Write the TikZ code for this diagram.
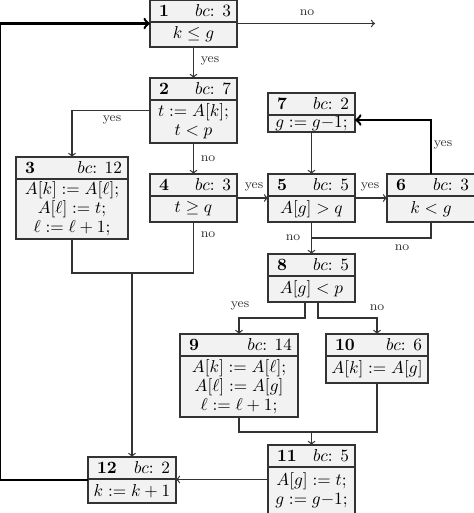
\documentclass[tikz,border=0pt]{standalone}
\usetikzlibrary{calc,fit}
\newlength\pxu \setlength\pxu{0.58pt}
\definecolor{boxfill}{gray}{0.95}
\definecolor{linec}{gray}{0.2}
\tikzset{
 hdr/.style={draw=linec, fill=boxfill, line width=0.8pt, anchor=north west, inner xsep=0pt, inner ysep=0pt, outer sep=0pt, minimum height=22\pxu, font=\fontsize{10}{12}\selectfont},
 bdy/.style={draw=linec, fill=boxfill, line width=0.8pt, anchor=north west, inner sep=0.3pt, outer sep=0pt, align=center, font=\fontsize{10}{11}\selectfont},
 edge/.style={draw=linec, line width=0.7pt},
 arr/.style={edge, ->},
 loopedge/.style={draw=black, line width=1.4pt},
 lbl/.style={font=\fontsize{7.5}{9}\selectfont, text=linec, inner sep=0pt}
}
\newcommand\blk[8]{%
 \node[hdr, minimum width=#4\pxu] (#1h) at (#2,#3) {\makebox[#4\pxu]{\hspace{9\pxu}\textbf{#5}\hfill$bc$: #6\hspace{6\pxu}}};
 \node[bdy, minimum width=#4\pxu, minimum height=#7\pxu] (#1b) at (#1h.south west) {#8};
 \node[inner sep=0pt, outer sep=0pt, fit=(#1h)(#1b)] (#1) {};
}
\begin{document}
\begin{tikzpicture}[x=0.58pt, y=-0.58pt]
\useasboundingbox (0,0) rectangle (474,513);
\clip (0,0) rectangle (474,513);

\blk{n1}{150}{0}{87}{1}{3}{25}{$k\le g$}
\blk{n2}{150}{78}{87}{2}{7}{43}{$t := A[k];$\\ $t<p$}
\blk{n3}{16}{157}{112}{3}{12}{60}{$A[k] := A[\ell];$\\ $A[\ell] := t;$\\ $\ell := \ell+1;$}
\blk{n4}{150}{174}{87}{4}{3}{26}{$t\ge q$}
\blk{n5}{268}{174}{87}{5}{5}{26}{$A[g]>q$}
\blk{n6}{387}{174}{88}{6}{3}{26}{$k<g$}
\blk{n7}{268}{93}{87}{7}{2}{17}{$g := g{-}1;$}
\blk{n8}{268}{254}{87}{8}{5}{26}{$A[g]<p$}
\blk{n9}{180}{334}{118}{9}{14}{61}{$A[k] := A[\ell];$\\ $A[\ell] := A[g]$\\ $\ell := \ell+1;$}
\blk{n10}{326}{334}{102}{10}{6}{27}{$A[k] := A[g]$}
\blk{n11}{268}{445}{87}{11}{5}{47}{$A[g] := t;$\\ $g := g{-}1;$}
\blk{n12}{88}{457}{88}{12}{2}{24}{$k := k+1$}

\coordinate (out1) at (375,23.5);
\coordinate (lc) at (-0.6,23.5);
\coordinate (j58) at (311.5,238);
\coordinate (m34) at (132,273);
\coordinate (m910) at (311.5,432);

\draw[loopedge,->] (n12.west) -| (lc) -- (n1.west);
\draw[arr] (n1.east) -- (out1);
\draw[arr] (n1.south) -- (n2.north);
\draw[arr] (n2.west) -| (n3.north);
\draw[arr] (n2.south) -- (n4.north);
\draw[arr] (n4.east) -- (n5.west);
\draw[arr] (n5.east) -- (n6.west);
\draw[loopedge,->] (n6.north) |- ($(n7.east)+(0,7.5)$);
\draw[arr] (n7.south) -- (n5.north);
\draw[edge] (n6.south) |- (j58);
\draw[arr] (n5.south) -- (n8.north);
\draw[edge] (n3.south) |- (m34);
\draw[edge] (n4.south) |- (m34);
\draw[arr] (m34) -- (n12.north);
\draw[arr] ($(n8.south)+(-6.5,0)$) -- ++(0,16) -| (n9.north);
\draw[arr] ($(n8.south)+(6.5,0)$) -- ++(0,16) -| (n10.north);
\draw[edge] (n9.south) |- (m910);
\draw[edge] (n10.south) |- (m910);
\draw[arr] (m910) -- (n11.north);
\draw[arr] (n11.west) -- (n11.west -| n12.east);

\node[lbl] (l1) at (307,13) {no};
\node[lbl] (l2) at (210,61) {yes};
\node[lbl] (l3) at (112,120) {yes};
\node[lbl] (l4) at (208,159) {no};
\node[lbl] (l5) at (254,187) {yes};
\node[lbl] (l6) at (370,187) {yes};
\node[lbl] (l7) at (443,145) {yes};
\node[lbl] (l8) at (208,235) {no};
\node[lbl] (l9) at (293,238) {no};
\node[lbl] (l10) at (402,248) {no};
\node[lbl] (l11) at (240,306) {yes};
\node[lbl] (l12) at (377,308) {no};
\end{tikzpicture}
\end{document}
